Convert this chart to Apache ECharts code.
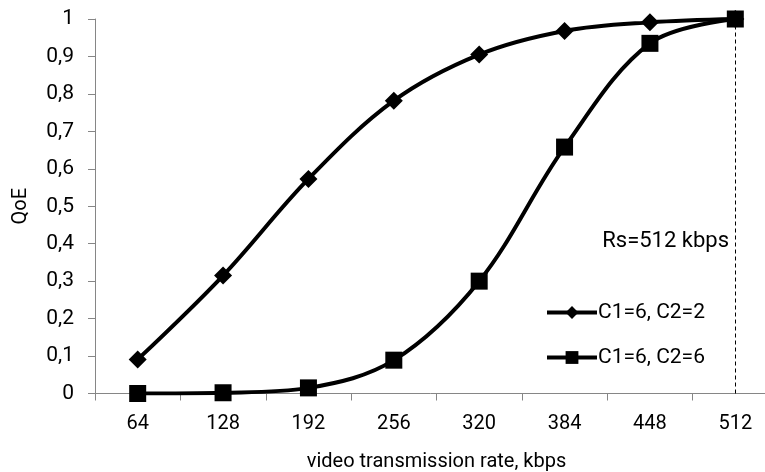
<!DOCTYPE html>
<html>
<head>
<meta charset="utf-8">
<script src="https://cdn.jsdelivr.net/npm/echarts@6/dist/echarts.min.js"></script>
<style>
html,body{margin:0;padding:0;background:#fff;}
#chart{width:765px;height:472px;}
</style>
</head>
<body>
<div id="chart"></div>
<script>
const categories = ['64', '128', '192', '256', '320', '384', '448', '512'];
const seriesNames = ['C1=6, C2=2', 'C1=6, C2=6'];
const qoeC2eq2 = [0.091, 0.315, 0.573, 0.782, 0.905, 0.968, 0.991, 1.0];
const qoeC2eq6 = [0.0, 0.002, 0.015, 0.089, 0.30, 0.658, 0.935, 1.0];
const rsCategory = '512';
const rsLabel = 'Rs=512 kbps';
const xAxisTitle = 'video transmission rate, kbps';
const yAxisTitle = 'QoE';

const FONT = 'Roboto';
const chart = echarts.init(document.getElementById('chart'), null, {renderer: 'canvas'});
chart.setOption({
  animation: false,
  backgroundColor: '#fff',
  textStyle: {fontFamily: FONT, color: '#000'},
  grid: {left: 95, top: 19, width: 683, bottom: 78.5, containLabel: false, outerBoundsMode: 'none'},
  legend: {
    orient: 'vertical',
    left: 540,
    top: 297,
    itemWidth: 50,
    itemHeight: 16,
    itemGap: 24,
    lineStyle: {width: 4},
    textStyle: {fontFamily: FONT, fontSize: 21, color: '#000', padding: [0, 0, 0, -4]},
    data: seriesNames
  },
  xAxis: {
    type: 'category',
    data: categories,
    boundaryGap: true,
    name: xAxisTitle,
    nameLocation: 'middle',
    nameGap: 58,
    nameTextStyle: {fontFamily: FONT, fontSize: 20, color: '#000'},
    axisLine: {lineStyle: {color: '#868686', width: 1}},
    axisTick: {show: true, length: 7, lineStyle: {color: '#868686'}},
    axisLabel: {fontFamily: FONT, fontSize: 20, color: '#000', margin: 20},
    splitLine: {show: false}
  },
  yAxis: {
    type: 'value',
    min: 0,
    max: 1,
    interval: 0.1,
    name: yAxisTitle,
    nameLocation: 'middle',
    nameGap: 64,
    nameRotate: 90,
    nameTextStyle: {fontFamily: FONT, fontSize: 20, color: '#000'},
    axisLine: {show: true, lineStyle: {color: '#868686', width: 1}},
    axisTick: {show: true, length: 7, lineStyle: {color: '#868686'}},
    axisLabel: {
      fontFamily: FONT, fontSize: 21, color: '#000', margin: 21,
      formatter: v => String(Math.round(v * 10) / 10).replace('.', ',')
    },
    splitLine: {show: false}
  },
  graphic: [{
    type: 'text',
    right: 765 - 729,
    top: 230,
    style: {text: rsLabel, fontFamily: FONT, fontSize: 22, fill: '#000'}
  }],
  series: [
    {
      name: seriesNames[0],
      type: 'line',
      data: qoeC2eq2,
      smooth: 0.35,
      symbol: 'diamond',
      symbolSize: 18,
      lineStyle: {color: '#000', width: 4},
      itemStyle: {color: '#000'},
      z: 3
    },
    {
      name: seriesNames[1],
      type: 'line',
      data: qoeC2eq6,
      smooth: 0.35,
      symbol: 'rect',
      symbolSize: 17,
      lineStyle: {color: '#000', width: 4},
      itemStyle: {color: '#000'},
      z: 4,
      markLine: {
        silent: true,
        symbol: 'none',
        label: {show: false},
        lineStyle: {color: '#000', type: [4, 3], width: 1},
        data: [{xAxis: rsCategory}]
      }
    }
  ]
});
</script>
</body>
</html>
